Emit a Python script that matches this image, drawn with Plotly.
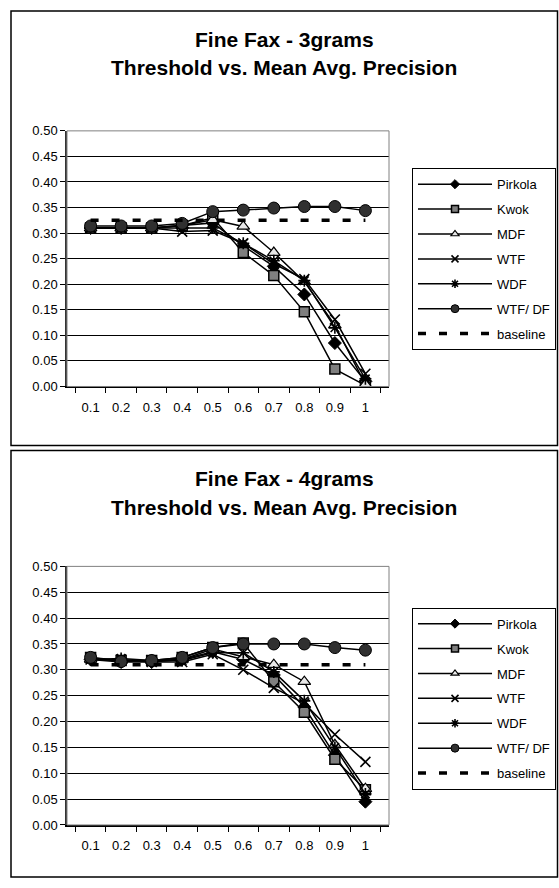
import plotly.graph_objects as go

# ---------------- data ----------------
thresholds = ["0.1", "0.2", "0.3", "0.4", "0.5", "0.6", "0.7", "0.8", "0.9", "1"]

series_names = ["Pirkola", "Kwok", "MDF", "WTF", "WDF", "WTF/ DF", "baseline"]

# Fine Fax - 3grams
pirkola_3 = [0.310, 0.310, 0.310, 0.315, 0.320, 0.275, 0.235, 0.180, 0.085, 0.010]
kwok_3 = [0.310, 0.310, 0.310, 0.315, 0.330, 0.262, 0.217, 0.146, 0.034, 0.002]
mdf_3 = [0.310, 0.310, 0.310, 0.315, 0.326, 0.313, 0.262, 0.205, 0.120, 0.004]
wtf_3 = [0.310, 0.310, 0.310, 0.303, 0.305, 0.280, 0.240, 0.210, 0.131, 0.025]
wdf_3 = [0.310, 0.310, 0.310, 0.310, 0.310, 0.280, 0.246, 0.207, 0.115, 0.015]
wtfdf_3 = [0.314, 0.314, 0.314, 0.319, 0.342, 0.345, 0.349, 0.352, 0.352, 0.344]
baseline_3 = [0.325, 0.325, 0.325, 0.325, 0.325, 0.325, 0.325, 0.325, 0.325, 0.325]

# Fine Fax - 4grams
pirkola_4 = [0.320, 0.315, 0.315, 0.320, 0.335, 0.320, 0.290, 0.228, 0.135, 0.045]
kwok_4 = [0.324, 0.318, 0.318, 0.324, 0.343, 0.352, 0.277, 0.218, 0.127, 0.068]
mdf_4 = [0.320, 0.318, 0.318, 0.320, 0.340, 0.325, 0.310, 0.277, 0.155, 0.070]
wtf_4 = [0.320, 0.320, 0.315, 0.315, 0.330, 0.300, 0.265, 0.235, 0.175, 0.122]
wdf_4 = [0.320, 0.322, 0.318, 0.318, 0.333, 0.333, 0.296, 0.240, 0.150, 0.060]
wtfdf_4 = [0.324, 0.316, 0.318, 0.324, 0.343, 0.350, 0.350, 0.350, 0.343, 0.338]
baseline_4 = [0.310, 0.310, 0.310, 0.310, 0.310, 0.310, 0.310, 0.310, 0.310, 0.310]

y_ticks = [0.00, 0.05, 0.10, 0.15, 0.20, 0.25, 0.30, 0.35, 0.40, 0.45, 0.50]

titles = [("Fine Fax - 3grams", "Threshold vs. Mean Avg. Precision"),
          ("Fine Fax - 4grams", "Threshold vs. Mean Avg. Precision")]

# ---------------- styling / layout helpers ----------------
W, H = 559, 888
FONT = "Liberation Sans, Arial, sans-serif"


def px(x):
    return x / W


def py(y):
    return 1 - y / H


marker_styles = {
    "Pirkola": dict(symbol="diamond", size=10, color="black", line=dict(color="black", width=1)),
    "Kwok": dict(symbol="square", size=10, color="#7f7f7f", line=dict(color="black", width=1.5)),
    "MDF": dict(symbol="triangle-up", size=11, color="#e8e8e8", line=dict(color="black", width=1.2)),
    "WTF": dict(symbol="x-thin", size=10, color="black", line=dict(color="black", width=1.6)),
    "WDF": dict(symbol="asterisk", size=10, color="black", line=dict(color="black", width=1.6)),
    "WTF/ DF": dict(symbol="circle", size=12, color="#303030", line=dict(color="black", width=1)),
}
legend_marker_sizes = {"Pirkola": 7, "Kwok": 7, "MDF": 7, "WTF": 7, "WDF": 7, "WTF/ DF": 8}

fig = go.Figure()

charts = [
    dict(data=[pirkola_3, kwok_3, mdf_3, wtf_3, wdf_3, wtfdf_3, baseline_3],
         xa="x", ya="y", legend="legend", off=0, grp="t"),
    dict(data=[pirkola_4, kwok_4, mdf_4, wtf_4, wdf_4, wtfdf_4, baseline_4],
         xa="x2", ya="y2", legend="legend2", off=447, grp="b"),
]

for ch in charts:
    for name, vals in zip(series_names, ch["data"]):
        if name == "baseline":
            fig.add_trace(go.Scatter(
                x=thresholds, y=vals, name=name, mode="lines",
                line=dict(color="black", width=3.5, dash="8px,13px"),
                xaxis=ch["xa"], yaxis=ch["ya"], legend=ch["legend"],
                legendgroup=ch["grp"] + name, showlegend=True))
        else:
            fig.add_trace(go.Scatter(
                x=thresholds, y=vals, name=name, mode="lines+markers",
                line=dict(color="black", width=1.5),
                marker=marker_styles[name],
                xaxis=ch["xa"], yaxis=ch["ya"], legend=ch["legend"],
                legendgroup=ch["grp"] + name, showlegend=False))
            # legend entry with the smaller legend-sized marker
            lm = dict(marker_styles[name])
            lm["size"] = legend_marker_sizes[name]
            fig.add_trace(go.Scatter(
                x=[None], y=[None], name=name, mode="lines+markers",
                line=dict(color="black", width=1.5), marker=lm,
                xaxis=ch["xa"], yaxis=ch["ya"], legend=ch["legend"],
                legendgroup=ch["grp"] + name, showlegend=True, hoverinfo="skip"))

# plot area pixel geometry
PL, PR = 67, 389
plot_rows = [(126, 386), (569, 832)]
box_rows = [(4, 446), (451, 885)]

axis_common_x = dict(
    type="category", showgrid=False, showline=True, linecolor="black", linewidth=1.5,
    ticks="outside", ticklen=5, tickcolor="black", tickson="boundaries",
    tickfont=dict(family=FONT, size=13, color="black"), ticklabelstandoff=8,
    domain=[px(PL), px(PR)], fixedrange=True,
)
axis_common_y = dict(
    range=[0, 0.5], tickvals=y_ticks, tickformat=".2f", showgrid=True,
    gridcolor="black", gridwidth=1, showline=True, linecolor="#333333", linewidth=1.5,
    ticks="outside", ticklen=5, tickcolor="black", zeroline=False,
    tickfont=dict(family=FONT, size=13, color="black"), fixedrange=True,
)

fig.update_layout(
    xaxis=dict(axis_common_x, anchor="y"),
    yaxis=dict(axis_common_y, anchor="x", domain=[py(plot_rows[0][1]), py(plot_rows[0][0])]),
    xaxis2=dict(axis_common_x, anchor="y2"),
    yaxis2=dict(axis_common_y, anchor="x2", domain=[py(plot_rows[1][1]), py(plot_rows[1][0])]),
)

shapes = []
annotations = []
legend_cfg = dict(
    x=px(412), xanchor="left", yanchor="top",
    bgcolor="white", bordercolor="black", borderwidth=1,
    font=dict(family=FONT, size=13, color="black"),
    itemwidth=74, tracegroupgap=5, traceorder="grouped", itemclick=False,
    itemdoubleclick=False,
)
for i, ch in enumerate(charts):
    off = ch["off"]
    btop, bbot = box_rows[i]
    shapes.append(dict(type="rect", xref="paper", yref="paper",
                       x0=px(11), x1=px(557.5), y0=py(bbot), y1=py(btop),
                       line=dict(color="black", width=1.5), layer="below"))
    top, bot = plot_rows[i]
    shapes.append(dict(type="rect", xref="paper", yref="paper",
                       x0=px(PL), x1=px(PR), y0=py(bot), y1=py(top),
                       line=dict(color="#808080", width=1), layer="above"))
    t1, t2 = titles[i]
    annotations.append(dict(text=t1, x=px(284.5), y=py(33 + off), xref="paper", yref="paper",
                            xanchor="center", yanchor="middle", showarrow=False,
                            font=dict(family=FONT, size=21, color="black", weight="bold")))
    annotations.append(dict(text=t2, x=px(284.5), y=py(62 + off), xref="paper", yref="paper",
                            xanchor="center", yanchor="middle", showarrow=False,
                            font=dict(family=FONT, size=21, color="black", weight="bold")))

fig.update_layout(
    width=W, height=H, autosize=False,
    margin=dict(l=0, r=0, t=0, b=0),
    paper_bgcolor="white", plot_bgcolor="white",
    showlegend=True,
    legend=dict(legend_cfg, y=py(164)),
    legend2=dict(legend_cfg, y=py(164 + 447)),
    shapes=shapes, annotations=annotations,
    font=dict(family=FONT, color="black"),
)

fig.write_html("out.html", config={"displayModeBar": False},
               post_script="document.body.style.margin='0';")
